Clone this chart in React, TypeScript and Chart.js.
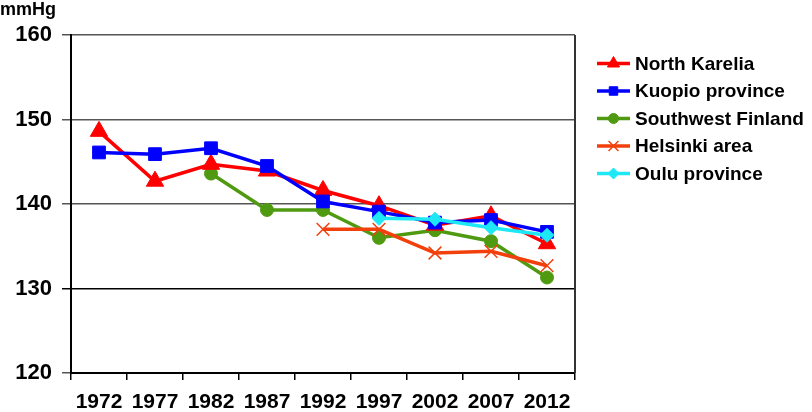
import React, { useEffect, useRef } from 'react';
import { Chart, registerables } from 'chart.js';
import { drawPoint } from 'chart.js/helpers';

Chart.register(...registerables);

const years = ['1972', '1977', '1982', '1987', '1992', '1997', '2002', '2007', '2012'];
const northKarelia = [148.6, 142.7, 144.7, 143.9, 141.6, 139.8, 137.5, 138.6, 135.3];
const kuopio = [146.1, 145.9, 146.6, 144.5, 140.3, 139.1, 137.8, 138.1, 136.7];
const southwestFinland = [null, null, 143.6, 139.3, 139.3, 136.0, 136.9, 135.6, 131.3];
const helsinkiArea = [null, null, null, null, 137.0, 137.0, 134.2, 134.4, 132.7];
const ouluProvince = [null, null, null, null, null, 138.3, 138.2, 137.2, 136.3];
const yTicks = [120, 130, 140, 150, 160];
const yUnit = 'mmHg';

const FONT = '"Liberation Sans", Arial, sans-serif';

const series = [
  { label: 'North Karelia', data: northKarelia, color: '#ff0000', style: 'triangle', radius: 10, legendRadius: 7, order: 3 },
  { label: 'Kuopio province', data: kuopio, color: '#0000ff', style: 'rect', radius: 9, legendRadius: 6, order: 2 },
  { label: 'Southwest Finland', data: southwestFinland, color: '#4f9a10', style: 'circle', radius: 6.5, legendRadius: 5, order: 4 },
  { label: 'Helsinki area', data: helsinkiArea, color: '#f2400c', style: 'crossRot', radius: 9, legendRadius: 7, order: 1 },
  { label: 'Oulu province', data: ouluProvince, color: '#1ee8f5', style: 'rectRot', radius: 7, legendRadius: 5.5, order: 0 },
];

const overlayPlugin = {
  id: 'overlay',
  afterDraw(chart: any) {
    const ctx = chart.ctx;
    const area = chart.chartArea;
    ctx.save();
    ctx.strokeStyle = '#333';
    ctx.lineWidth = 2;
    ctx.beginPath();
    ctx.moveTo(area.right, area.top);
    ctx.lineTo(area.right, area.bottom);
    ctx.stroke();
    ctx.fillStyle = '#000';
    ctx.font = `bold 18px ${FONT}`;
    ctx.textBaseline = 'middle';
    ctx.textAlign = 'left';
    ctx.fillText(yUnit, 0, 10);
    const x0 = 597, x1 = 630;
    series.forEach((s, i) => {
      const y = 63.5 + i * 27.5;
      ctx.strokeStyle = s.color;
      ctx.fillStyle = s.color;
      ctx.lineWidth = 3.5;
      ctx.beginPath();
      ctx.moveTo(x0, y);
      ctx.lineTo(x1, y);
      ctx.stroke();
      ctx.lineWidth = s.style === 'crossRot' ? 1.5 : 1;
      drawPoint(ctx, { pointStyle: s.style, radius: s.legendRadius, borderWidth: ctx.lineWidth, rotation: 0 }, (x0 + x1) / 2, y);
      ctx.fillStyle = '#000';
      ctx.font = `bold 19px ${FONT}`;
      ctx.textBaseline = 'middle';
      ctx.textAlign = 'left';
      ctx.fillText(s.label, 635, y + 1);
    });
    ctx.restore();
  },
};

export default function App() {
  const ref = useRef<HTMLCanvasElement | null>(null);
  useEffect(() => {
    if (!ref.current) return;
    const chart = new Chart(ref.current, {
      type: 'line',
      data: {
        labels: years,
        datasets: series.map((s) => ({
          label: s.label,
          data: s.data,
          borderColor: s.color,
          backgroundColor: s.color,
          borderWidth: 3.5,
          pointStyle: s.style,
          pointRadius: s.radius,
          pointBorderWidth: s.style === 'crossRot' ? 1.5 : 1,
          pointBorderColor: s.color,
          pointBackgroundColor: s.color,
          spanGaps: false,
          order: s.order,
          tension: 0,
        })),
      },
      options: {
        animation: false,
        responsive: false,
        devicePixelRatio: 1,
        layout: { padding: { top: 35, left: 0, right: 237, bottom: 0 } },
        plugins: { legend: { display: false }, tooltip: { enabled: false } },
        scales: {
          x: {
            offset: true,
            afterFit: (scale: any) => { scale.height = 39; },
            grid: { offset: true, drawOnChartArea: false, tickLength: 7, color: '#000', lineWidth: 1.5 },
            border: { color: '#000', width: 2 },
            ticks: { color: '#000', font: { family: FONT, size: 21, weight: 'bold' }, padding: 10, maxRotation: 0, autoSkip: false },
          },
          y: {
            min: yTicks[0],
            max: yTicks[yTicks.length - 1],
            afterFit: (scale: any) => { scale.width = 71; },
            afterBuildTicks: (scale: any) => { scale.ticks = yTicks.map((v) => ({ value: v })); },
            grid: {
              color: (c: any) => (c.tick && c.tick.value === 130 ? '#000' : '#555'),
              lineWidth: 1.5,
              tickLength: 9,
            },
            border: { color: '#000', width: 2 },
            ticks: { color: '#000', font: { family: FONT, size: 22, weight: 'bold' }, padding: 10 },
          },
        },
      },
      plugins: [overlayPlugin],
    } as any);
    return () => chart.destroy();
  }, []);
  return (
    <div style={{ position: 'fixed', left: 0, top: 0, width: 812, height: 412, background: '#fff' }}>
      <canvas ref={ref} width={812} height={412} style={{ display: 'block' }} />
    </div>
  );
}
